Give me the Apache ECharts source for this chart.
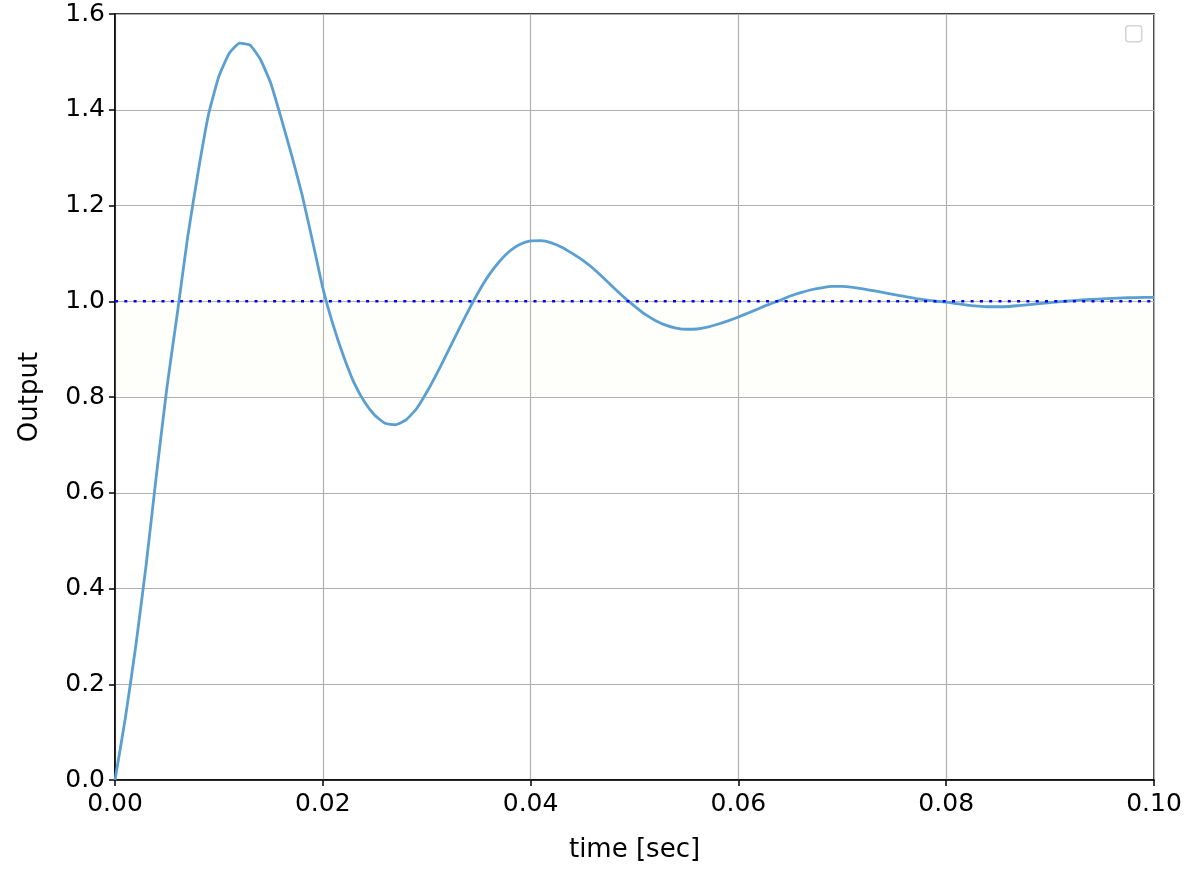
<!DOCTYPE html>
<html>
<head>
<meta charset="utf-8">
<script src="https://cdn.jsdelivr.net/npm/echarts@6/dist/echarts.min.js"></script>
<style>
html,body{margin:0;padding:0;background:#fff;}
#chart{width:1200px;height:872px;}
</style>
</head>
<body>
<div id="chart"></div>
<script>
// time [sec], sampled every 1 ms
var timeStepMs = 1;
// output at each sample
var output = [
  0, 0.13, 0.28, 0.45, 0.64, 0.82, 0.975, 1.135, 1.27, 1.39,
  1.47, 1.518, 1.539, 1.535, 1.505, 1.455, 1.382, 1.305, 1.223, 1.127,
  1.028, 0.95, 0.885, 0.83, 0.79, 0.762, 0.745, 0.742, 0.752, 0.775,
  0.81, 0.85, 0.893, 0.937, 0.98, 1.02, 1.055, 1.083, 1.105, 1.119,
  1.126, 1.1265, 1.122, 1.113, 1.1, 1.086, 1.069, 1.049, 1.028, 1.008,
  0.99, 0.973, 0.96, 0.95, 0.944, 0.9415, 0.942, 0.946, 0.952, 0.959,
  0.967, 0.976, 0.985, 0.994, 1.002, 1.011, 1.018, 1.024, 1.028, 1.031,
  1.031, 1.029, 1.026, 1.022, 1.018, 1.014, 1.01, 1.006, 1.003, 1.0,
  0.998, 0.995, 0.992, 0.99, 0.9885, 0.9885, 0.989, 0.991, 0.993, 0.995,
  0.997, 0.999, 1.001, 1.003, 1.004, 1.005, 1.006, 1.007, 1.0075, 1.008,
  1.008
];
var reference = [[0, 1.0], [0.1, 1.0]];
var xTicks = [0, 0.02, 0.04, 0.06, 0.08, 0.1];
var yTicks = [0, 0.2, 0.4, 0.6, 0.8, 1.0, 1.2, 1.4, 1.6];

var curve = output.map(function (v, i) { return [i * timeStepMs / 1000, v]; });
var font = 'DejaVu Sans';
var fs = 25;
var nfs = 26;

var chart = echarts.init(document.getElementById('chart'), null, {renderer: 'canvas'});
chart.setOption({
  animation: false,
  backgroundColor: '#ffffff',
  grid: {left: 115, right: 46, top: 14, bottom: 92, show: true, borderColor: '#000', borderWidth: 1.5, backgroundColor: 'transparent'},
  xAxis: {
    type: 'value', min: 0, max: 0.1, interval: 0.02,
    name: 'time [sec]', nameLocation: 'middle', nameGap: 57,
    nameTextStyle: {fontFamily: font, fontSize: nfs, color: '#000'},
    axisLine: {show: true, lineStyle: {color: '#000', width: 1.5}},
    axisTick: {show: true, inside: false, length: 6, lineStyle: {color: '#000', width: 1.5}},
    axisLabel: {fontFamily: font, fontSize: fs, color: '#000', margin: 12, formatter: function (v) { return v.toFixed(2); }},
    splitLine: {show: true, lineStyle: {color: '#b0b0b0', width: 1.2}}
  },
  yAxis: {
    type: 'value', min: 0, max: 1.6, interval: 0.2,
    name: 'Output', nameLocation: 'middle', nameGap: 72, nameRotate: 90,
    nameTextStyle: {fontFamily: font, fontSize: nfs, color: '#000'},
    axisLine: {show: true, lineStyle: {color: '#000', width: 1.5}},
    axisTick: {show: true, inside: false, length: 6, lineStyle: {color: '#000', width: 1.5}},
    axisLabel: {fontFamily: font, fontSize: fs, color: '#000', margin: 10, formatter: function (v) { return v.toFixed(1); }},
    splitLine: {show: true, lineStyle: {color: '#b0b0b0', width: 1.2}}
  },
  series: [
    {
      type: 'line', data: curve, showSymbol: false, smooth: 0.15,
      lineStyle: {color: '#5a9fd2', width: 2.8, join: 'round'}, z: 3,
      markArea: {silent: true, itemStyle: {color: 'rgba(245,245,215,0.12)'}, data: [[{yAxis: 0.8}, {yAxis: 1.0}]]}
    },
    {
      type: 'line', data: reference, showSymbol: false,
      lineStyle: {color: '#0000ff', width: 2.6, type: [3, 6.3]}, z: 4
    }
  ],
  graphic: [
    {type: 'rect', left: 1125, top: 25, shape: {width: 16, height: 16, r: 3}, style: {fill: '#fff', stroke: '#d4d4d4', lineWidth: 1.5}, z: 10}
  ]
});
</script>
</body>
</html>
